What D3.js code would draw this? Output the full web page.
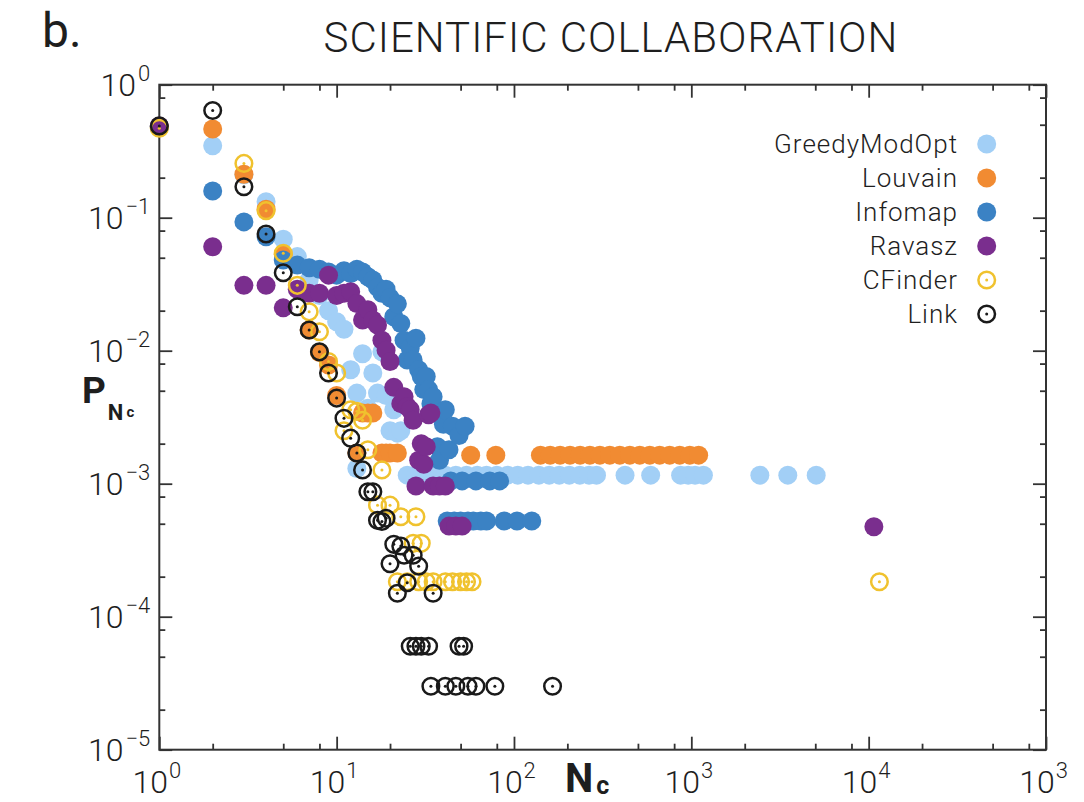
<!DOCTYPE html>
<html>
<head>
<meta charset="utf-8">
<script src="https://cdn.jsdelivr.net/npm/d3@7"></script>
<style>
  html, body { margin: 0; padding: 0; background: #fff; }
  svg { display: block; }
  text { font-family: Roboto, "Noto Sans", sans-serif; fill: #1e1e1e; }
</style>
</head>
<body>
<svg id="chart" width="1084" height="802"></svg>
<script>
// Community size N_c and probability P(N_c) for each detection method
const greedyModOpt = [
  [1,0.48],[2,0.348],[3,0.21],[4,0.132],[5,0.069],[6,0.051],[7,0.034],[8,0.026],[9,0.020],
  [10,0.0165],[11,0.0145],[12,0.0072],[13,0.0048],[13,0.0013],[14,0.0095],[15,0.0037],[16,0.0068],
  [17,0.0048],[18,0.0098],[19,0.0046],[20,0.0025],[21,0.0036],[22,0.0024],[23,0.0025],
  [25,0.00116],[28,0.00116],[32,0.00116],[36,0.00116],[41,0.00116],[47,0.00116],[54,0.00116],
  [62,0.00116],[70,0.00116],[80,0.00116],[92,0.00116],[105,0.00116],[120,0.00116],[138,0.00116],
  [158,0.00116],[180,0.00116],[205,0.00116],[235,0.00116],[265,0.00116],[292,0.00116],
  [423,0.00116],[590,0.00116],[870,0.00116],[960,0.00116],[1050,0.00116],[1170,0.00116],
  [2435,0.00116],[3500,0.00116],[5060,0.00116]
];
const louvain = [
  [1,0.48],[2,0.464],[3,0.212],[4,0.116],[5,0.053],[7,0.0143],[8,0.0097],[9,0.0078],[10,0.0046],
  [13,0.0017],[14,0.0034],[15,0.0034],[16,0.0034],[18,0.0017],[19,0.0017],[20,0.0017],[22,0.0017],
  [57,0.00164],[79,0.00164],
  [141,0.00164],[160,0.00164],[182,0.00164],[207,0.00164],[236,0.00164],[268,0.00164],[305,0.00164],
  [347,0.00164],[395,0.00164],[450,0.00164],[512,0.00164],[583,0.00164],[663,0.00164],[755,0.00164],
  [860,0.00164],[980,0.00164],[1100,0.00164]
];
const infomap = [
  [1,0.48],[2,0.159],[3,0.093],[4,0.072],[5,0.048],[6,0.044],[7,0.042],[8,0.041],[9,0.039],
  [10,0.037],[11,0.040],[12,0.038],[13,0.041],[14,0.039],[15,0.036],[16,0.034],[17,0.030],
  [18,0.027],[19,0.029],[20,0.025],[21,0.018],[22,0.0225],[23,0.016],[24,0.012],[25,0.0085],
  [26,0.0105],[27,0.0085],[28,0.0124],[29,0.0072],[30,0.0064],[31,0.0051],[32,0.0064],
  [33,0.0051],[34,0.0040],[35,0.0045],[36,0.0034],[37,0.0019],[38,0.0015],[40,0.0028],
  [41,0.0036],[43,0.0018],[45,0.0027],[49,0.0023],[53,0.0027],
  [44,0.00105],[51,0.00105],[61,0.00105],[73,0.00105],[83,0.00105],
  [42,0.000525],[46,0.000525],[50,0.000525],[55,0.000525],[59,0.000525],[65,0.000525],
  [70,0.000525],[88,0.000525],[104,0.000525],[126,0.000525]
];
const ravasz = [
  [1,0.49],[2,0.0605],[3,0.031],[4,0.031],[5,0.021],[6,0.029],[7,0.027],[8,0.027],[9,0.037],
  [10,0.026],[11,0.027],[12,0.0278],[13,0.0226],[14,0.017],[15,0.0203],[16,0.017],[17,0.0156],
  [18,0.012],[19,0.0101],[20,0.0083],[21,0.0053],[23,0.0040],[24,0.0045],[25,0.0038],
  [26,0.0036],[27,0.0030],[28,0.00096],[29,0.0015],[30,0.0020],[31,0.0014],[32,0.0019],
  [33,0.0033],[34,0.0034],[35,0.00096],[38,0.00096],[41,0.00096],
  [43,0.00048],[47,0.00048],[51,0.00048],[10700,0.000475]
];
const cfinder = [
  [1,0.47],[3,0.256],[4,0.113],[5,0.054],[6,0.031],[7,0.0196],[8,0.0139],[9,0.0083],[10,0.0068],
  [11,0.0025],[12,0.0036],[13,0.0035],[14,0.0030],[15,0.0018],[17,0.00069],[18,0.00127],
  [20,0.00069],[23,0.000565],[28,0.000565],[27,0.000356],[30,0.000356],
  [22,0.000183],[25,0.000183],[29,0.000183],[32,0.000183],[35,0.000183],[41,0.000183],
  [45,0.000183],[50,0.000183],[54,0.000183],[58,0.000183],[11500,0.000183]
];
const link = [
  [1,0.49],[2,0.64],[3,0.171],[4,0.0754],[5,0.0386],[6,0.0214],[7,0.0143],[8,0.0098],[9,0.0068],
  [10,0.0044],[11,0.0031],[12,0.0022],[13,0.0017],[14,0.00127],[15,0.00087],[16,0.00087],
  [17,0.00053],[18,0.00052],[19,0.00055],[20,0.00025],[21,0.00035],[22,0.00015],[23,0.00034],
  [24,0.00029],[25,0.00018],[27,0.00029],[29,0.00024],[35,0.00015],
  [26,0.00006],[28,0.00006],[30,0.00006],[33,0.00006],[49,0.00006],[52,0.00006],
  [34,0.00003],[41,0.00003],[47,0.00003],[55,0.00003],[61,0.00003],[78,0.00003],[165,0.00003]
];

const seriesNames = ["GreedyModOpt", "Louvain", "Infomap", "Ravasz", "CFinder", "Link"];
const seriesData = [greedyModOpt, louvain, infomap, ravasz, cfinder, link];

// Axis ticks
const xMajor = [1, 10, 100, 1000, 10000, 100000];
const xTickExp = ["0", "1", "2", "3", "4", "3"];
const yMajor = [1, 0.1, 0.01, 0.001, 0.0001, 0.00001];
const yTickExp = ["0", "\u22121", "\u22122", "\u22123", "\u22124", "\u22125"];
const minorMantissas = [2, 5, 8];

// Marker styles per method
const styles = {
  GreedyModOpt: { kind: "fill", color: "#a2cff6" },
  Louvain:      { kind: "fill", color: "#f18b32" },
  Infomap:      { kind: "fill", color: "#3b82c4" },
  Ravasz:       { kind: "fill", color: "#7a2e8e" },
  CFinder:      { kind: "ring", color: "#f0c22e" },
  Link:         { kind: "ring", color: "#1a1a1a" }
};

const svg = d3.select("#chart");
const plotLeft = 159.3, plotRight = 1046, plotTop = 84.7, plotBottom = 749.7;
const x = d3.scaleLog().domain([1, 1e5]).range([plotLeft, plotRight]);
const y = d3.scaleLog().domain([1e-5, 1]).range([plotBottom, plotTop]);

const xMinor = [];
for (let k = 0; k < 5; k++) minorMantissas.forEach(m => xMinor.push(m * Math.pow(10, k)));
const yMinor = [];
for (let k = -5; k < 0; k++) minorMantissas.forEach(m => yMinor.push(m * Math.pow(10, k)));

// Title and panel letter
svg.append("text").attr("x", 42).attr("y", 47).attr("font-size", 48).text("b.");
svg.append("text").attr("x", 611).attr("y", 52).attr("text-anchor", "middle")
  .attr("font-size", 42).attr("font-weight", 300).attr("letter-spacing", 1)
  .text("SCIENTIFIC COLLABORATION");

// Tick marks on all four sides, pointing into the plot
const axisColor = "#333";
function drawAxis(axisFn, scale, values, size, transform) {
  const g = svg.append("g").attr("transform", transform)
    .call(axisFn(scale).tickValues(values).tickSize(size).tickFormat(() => ""));
  g.select(".domain").remove();
  g.selectAll(".tick line").attr("stroke", axisColor).attr("stroke-width", 1.8);
  return g;
}
const gx = drawAxis(d3.axisBottom, x, xMajor, -13, `translate(0,${plotBottom})`);
drawAxis(d3.axisBottom, x, xMinor, -6, `translate(0,${plotBottom})`);
drawAxis(d3.axisTop, x, xMajor, -13, `translate(0,${plotTop})`);
drawAxis(d3.axisTop, x, xMinor, -6, `translate(0,${plotTop})`);
const gy = drawAxis(d3.axisLeft, y, yMajor, -13, `translate(${plotLeft},0)`);
drawAxis(d3.axisLeft, y, yMinor, -6, `translate(${plotLeft},0)`);
drawAxis(d3.axisRight, y, yMajor, -13, `translate(${plotRight},0)`);
drawAxis(d3.axisRight, y, yMinor, -6, `translate(${plotRight},0)`);

svg.append("rect").attr("x", plotLeft).attr("y", plotTop)
  .attr("width", plotRight - plotLeft).attr("height", plotBottom - plotTop)
  .attr("fill", "none").attr("stroke", axisColor).attr("stroke-width", 2);

// Power-of-ten tick labels
gx.selectAll(".tick").each(function(d, i) {
  const t = d3.select(this).append("text")
    .attr("y", 43).attr("text-anchor", "middle").attr("font-weight", 300)
    .attr("font-size", 32).attr("fill", "#1e1e1e").attr("dx", -3);
  t.append("tspan").text("10");
  t.append("tspan").attr("font-size", 22).attr("dy", -15).attr("dx", 1).text(xTickExp[i]);
});
gy.selectAll(".tick").each(function(d, i) {
  const t = d3.select(this).append("text")
    .attr("x", -9).attr("y", 11).attr("text-anchor", "end").attr("font-weight", 300)
    .attr("font-size", 32).attr("fill", "#1e1e1e");
  t.append("tspan").text("10");
  t.append("tspan").attr("font-size", 22).attr("dy", -15).attr("dx", 2).text(yTickExp[i]);
});

// Axis titles
const xt = svg.append("text").attr("x", 565).attr("y", 792).attr("font-size", 40).attr("font-weight", 700);
xt.append("tspan").text("N");
xt.append("tspan").attr("font-size", 25).attr("dx", 3).attr("dy", 2).text("c");
const yt = svg.append("text").attr("x", 82).attr("y", 403).attr("font-size", 37).attr("font-weight", 700);
yt.append("tspan").text("P");
yt.append("tspan").attr("font-size", 22).attr("dx", 2).attr("dy", 17).text("N");
yt.append("tspan").attr("font-size", 15).attr("dx", 3).attr("dy", -3).text("c");

// Markers
const plot = svg.append("g");
function drawMarkers(sel, st) {
  if (st.kind === "fill") {
    sel.append("circle").attr("r", 9.5).attr("fill", st.color);
  } else {
    sel.append("circle").attr("r", 8.3).attr("fill", "none")
      .attr("stroke", st.color).attr("stroke-width", 2.5);
    sel.append("circle").attr("r", 1.5).attr("fill", st.color);
  }
}
seriesNames.forEach((name, si) => {
  const st = styles[name];
  const pts = plot.append("g").selectAll("g").data(seriesData[si]).join("g")
    .attr("transform", d => `translate(${x(d[0])},${y(d[1])})`);
  drawMarkers(pts, st);
});

// Legend
const legend = svg.append("g");
seriesNames.forEach((name, i) => {
  const yy = 144 + i * 34;
  legend.append("text").attr("x", 958).attr("y", yy + 9).attr("text-anchor", "end")
    .attr("font-size", 26).attr("font-weight", 300).attr("letter-spacing", 1).text(name);
  const m = legend.append("g").attr("transform", `translate(986.7,${yy})`);
  drawMarkers(m, styles[name]);
});
</script>
</body>
</html>
